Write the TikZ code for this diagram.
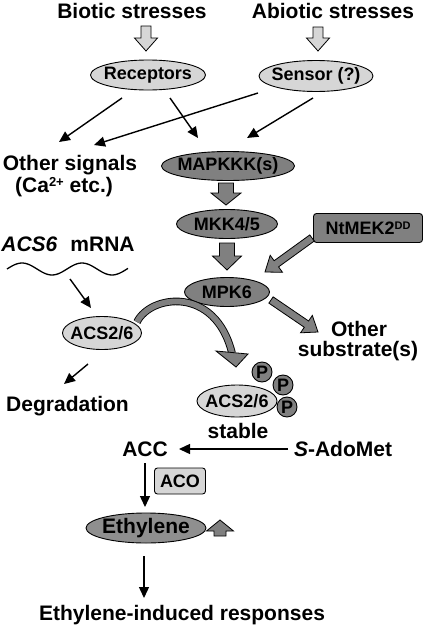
\documentclass[tikz,border=0pt]{standalone}
\usepackage{fontspec}
\setmainfont{Liberation Sans}
\usetikzlibrary{shapes.geometric,arrows.meta,calc}
\definecolor{lg}{gray}{0.84}
\definecolor{dg}{gray}{0.5}
\definecolor{eg}{gray}{0.56}
\newcommand\zb[1]{\makebox[0pt]{#1}}
\newcommand\fatarrow[6][]{%
  \coordinate (fac) at ($(#3)!#6!(#2)$);
  \draw[#1] ($(#2)!#4!90:(#3)$) -- ($(fac)!#4!90:(#3)$) -- ($(fac)!#5!90:(#3)$) -- (#3) -- ($(fac)!#5!-90:(#3)$) -- ($(fac)!#4!-90:(#3)$) -- ($(#2)!#4!-90:(#3)$) -- cycle;}
\begin{document}
\begin{tikzpicture}[x=1pt,y=-1pt,
  big/.style={font=\fontsize{21}{24}\selectfont\bfseries, inner sep=0pt, anchor=base},
  ell/.style={ellipse, draw=black, line width=0.9pt, inner sep=0pt, font=\fontsize{18}{20}\selectfont\bfseries},
  lightell/.style={ell, fill=lg},
  darkell/.style={ell, fill=dg},
  box/.style={rectangle, rounded corners=3pt, draw=black, line width=0.9pt, inner sep=0pt, font=\fontsize{18}{20}\selectfont\bfseries},
  pcirc/.style={circle, draw=black, line width=0.9pt, fill=dg, minimum size=20pt, inner sep=0pt, font=\fontsize{18}{20}\selectfont\bfseries},
  blk/.style={-{Triangle[length=11pt,width=10pt]}, line width=1.4pt},
  barrow/.style={draw=black, line width=0.8pt, fill=dg, line join=miter},
  larrow/.style={draw=black, line width=0.8pt, fill=lg, line join=miter},
]
\useasboundingbox (0,0) rectangle (425,629);

% texts
\node[big] (bio) at (132,19) {Biotic stresses};
\node[big] (abio) at (333,19) {Abiotic stresses};
\node[big] (oth1) at (70,170) {Other signals};
\node[big] (oth2) at (64,192) {(Ca\raisebox{5.5pt}{\fontsize{13}{13}\selectfont 2+} etc.)};
\node[big] (mrna) at (68,251) {\itshape ACS6\hspace{13pt}\upshape mRNA};
\node[big] (degr) at (67.5,411) {Degradation};
\node[big] (os1) at (359,336) {Other};
\node[big] (os2) at (358,356) {substrate(s)};
\node[big] (stab) at (238,438) {stable};
\node[big] (acc) at (145,456) {ACC};
\node[big] (sado) at (343,456) {{\itshape S}-AdoMet};
\node[big] (resp) at (182,620) {Ethylene-induced responses};

% ellipses and boxes
\node[lightell, minimum width=115pt, minimum height=30pt] (rec) at (148,75) {\zb{Receptors}};
\node[lightell, minimum width=114pt, minimum height=31pt] (sen) at (316,76) {\zb{Sensor (?)}};
\node[darkell, minimum width=133pt, minimum height=29pt] (mkkk) at (228,166) {\zb{MAPKKK(s)}};
\node[darkell, minimum width=101pt, minimum height=29pt] (mkk) at (227,224) {\zb{MKK4/5}};
\node[box, fill=dg, minimum width=109pt, minimum height=29pt] (ntm) at (368,228) {NtMEK2\raisebox{5pt}{\fontsize{11}{11}\selectfont DD}};
\node[darkell, minimum width=85pt, minimum height=29pt] (mpk) at (227,292) {\zb{MPK6}};
\node[lightell, minimum width=79pt, minimum height=33pt] (acsl) at (102,333) {\zb{ACS2/6}};
\node[lightell, minimum width=80pt, minimum height=32pt] (acsr) at (237,401) {\zb{ACS2/6}};
\node[pcirc] (p1) at (262,372) {P};
\node[pcirc] (p2) at (283,385) {P};
\node[pcirc] (p3) at (287,407) {P};
\node[box, fill=lg, minimum width=51pt, minimum height=26pt] (aco) at (180,481) {ACO};
\node[ell, fill=eg, minimum width=120pt, minimum height=30pt] (eth) at (146,528) {\zb{\fontsize{21}{24}\selectfont Ethylene}};

% mRNA wave
\draw[line width=1.3pt, domain=7:128, samples=60, smooth] plot (\x, {269-6*sin(6*(\x-22)+90)});

% thin arrows
\coordinate (a1s) at (122,98);  \coordinate (a1e) at (59,142);
\coordinate (a2s) at (170,98);  \coordinate (a2e) at (198,138);
\coordinate (a3s) at (258,93);  \coordinate (a3e) at (94,145);
\coordinate (a4s) at (313,98);  \coordinate (a4e) at (247,138);
\coordinate (a5s) at (70,279);  \coordinate (a5e) at (91,308);
\coordinate (a6s) at (88,364);  \coordinate (a6e) at (64,384);
\coordinate (a7s) at (288,449); \coordinate (a7e) at (179,449);
\coordinate (a8s) at (145,463); \coordinate (a8e) at (145,507);
\coordinate (a9s) at (144,556); \coordinate (a9e) at (144,598);
\draw[blk] (a1s) -- (a1e);
\draw[blk] (a2s) -- (a2e);
\draw[blk] (a3s) -- (a3e);
\draw[blk] (a4s) -- (a4e);
\draw[blk] (a5s) -- (a5e);
\draw[blk] (a6s) -- (a6e);
\draw[blk] (a7s) -- (a7e);
\draw[blk] (a8s) -- (a8e);
\draw[blk] (a9s) -- (a9e);

% block arrows
\coordinate (b1a) at (146,26);  \coordinate (b1b) at (146,51);
\coordinate (b2a) at (318,27);  \coordinate (b2b) at (318,51);
\fatarrow[larrow]{b1a}{b1b}{5pt}{11.5pt}{13pt}
\fatarrow[larrow]{b2a}{b2b}{5pt}{11.5pt}{13pt}
\coordinate (b3a) at (226,183); \coordinate (b3b) at (226,205);
\coordinate (b4a) at (227,243); \coordinate (b4b) at (227,270);
\fatarrow[barrow]{b3a}{b3b}{7.5pt}{15pt}{12pt}
\fatarrow[barrow]{b4a}{b4b}{7.5pt}{14.5pt}{14pt}
\coordinate (b5a) at (312,238); \coordinate (b5b) at (265,272);
\coordinate (b6a) at (271,300); \coordinate (b6b) at (318,332);
\fatarrow[barrow]{b5a}{b5b}{3.8pt}{10.5pt}{14pt}
\fatarrow[barrow]{b6a}{b6b}{3.8pt}{10.5pt}{14pt}
\coordinate (b7a) at (220,536); \coordinate (b7b) at (220,520);
\fatarrow[barrow]{b7a}{b7b}{6pt}{13.5pt}{11pt}

% curved arrow
\coordinate (cs) at (137,322); \coordinate (cc1) at (150,295);
\coordinate (cc2) at (215,285); \coordinate (ce) at (232,353);
\draw[line width=7.6pt, black] (cs) .. controls (cc1) and (cc2) .. (ce);
\draw[line width=5.8pt, dg] (cs) .. controls (cc1) and (cc2) .. (ce);
\coordinate (hl) at (216,351); \coordinate (hr) at (248,354); \coordinate (ht) at (236,367);
\draw[barrow] (hl) -- (hr) -- (ht) -- cycle;
\end{tikzpicture}
\end{document}
